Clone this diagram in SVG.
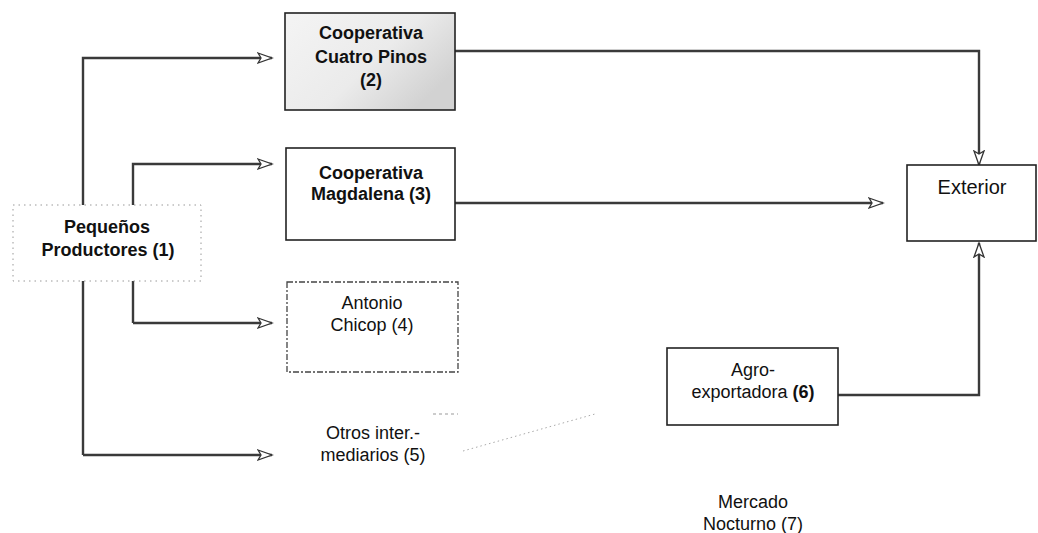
<svg xmlns="http://www.w3.org/2000/svg" width="1038" height="533" viewBox="0 0 1038 533">
<defs>
<marker id="arr" markerUnits="userSpaceOnUse" markerWidth="18" markerHeight="14" refX="15" refY="6" orient="auto">
<path d="M1,1 L15,6 L1,11 L4,6 z" fill="#fff" stroke="#333" stroke-width="1.3"/>
</marker>
<linearGradient id="stip" x1="0" y1="0" x2="1" y2="0.6">
<stop offset="0" stop-color="#f4f4f4"/>
<stop offset="0.6" stop-color="#ebebeb"/>
<stop offset="1" stop-color="#d2d2d2"/>
</linearGradient>
<style>
.ln{fill:none;stroke:#3a3a3a;stroke-width:2.4}
.box{fill:#fff;stroke:#222;stroke-width:1.6}
.t{font-family:"Liberation Sans",Arial,sans-serif;font-size:18px;fill:#111;text-anchor:middle}
.b{font-weight:bold}
</style>
</defs>
<rect width="1038" height="533" fill="#fff"/>
<g id="connectors">
<path class="ln" d="M83,455 L83,58 L272,58" marker-end="url(#arr)"/>
<path class="ln" d="M133,323 L133,164 L272,164" marker-end="url(#arr)"/>
<path class="ln" d="M133,323 L272,323" marker-end="url(#arr)"/>
<path class="ln" d="M83,455 L272,455" marker-end="url(#arr)"/>
<path class="ln" d="M455,51 L979,51 L979,165" marker-end="url(#arr)"/>
<path class="ln" d="M455,203 L883,203" marker-end="url(#arr)"/>
<path class="ln" d="M838,395 L979,395 L979,243" marker-end="url(#arr)"/>
<path d="M463,451 L595,414" fill="none" stroke="#aaa" stroke-width="1" stroke-dasharray="1.5 3"/>
<path d="M433,414 L458,414" fill="none" stroke="#999" stroke-width="1" stroke-dasharray="3 3"/>
</g>
<g id="n1">
<rect x="13" y="205" width="188" height="76" fill="#fff" stroke="#999" stroke-width="1" stroke-dasharray="1.5 4"/>
<text class="t b" x="107" y="233">Pequeños</text>
<text class="t b" x="108" y="256">Productores (1)</text>
</g>
<g id="n2">
<rect x="285" y="13" width="170" height="97" fill="url(#stip)" stroke="#222" stroke-width="1.6"/>
<text class="t b" x="371" y="39">Cooperativa</text>
<text class="t b" x="371" y="63">Cuatro Pinos</text>
<text class="t b" x="371" y="86">(2)</text>
</g>
<g id="n3">
<rect class="box" x="286" y="148" width="169" height="92"/>
<text class="t b" x="371" y="179">Cooperativa</text>
<text class="t b" x="371" y="200">Magdalena (3)</text>
</g>
<g id="n4">
<rect x="287" y="282" width="171" height="90" fill="#fff" stroke="#444" stroke-width="1.3" stroke-dasharray="6 2 2 2"/>
<text class="t" x="372" y="309">Antonio</text>
<text class="t" x="372" y="331">Chicop (4)</text>
</g>
<g id="n5">
<text class="t" x="373" y="439">Otros inter.-</text>
<text class="t" x="373" y="461">mediarios (5)</text>
</g>
<g id="n6">
<rect class="box" x="667" y="348" width="171" height="77"/>
<text class="t" x="753" y="376">Agro-</text>
<text class="t" x="753" y="398">exportadora <tspan class="b">(6)</tspan></text>
</g>
<g id="n7">
<text class="t" x="753" y="508">Mercado</text>
<text class="t" x="753" y="530">Nocturno (7)</text>
</g>
<g id="n8">
<rect class="box" x="907" y="165" width="129" height="76"/>
<text class="t" x="972" y="194" style="font-size:20px">Exterior</text>
</g>
</svg>
